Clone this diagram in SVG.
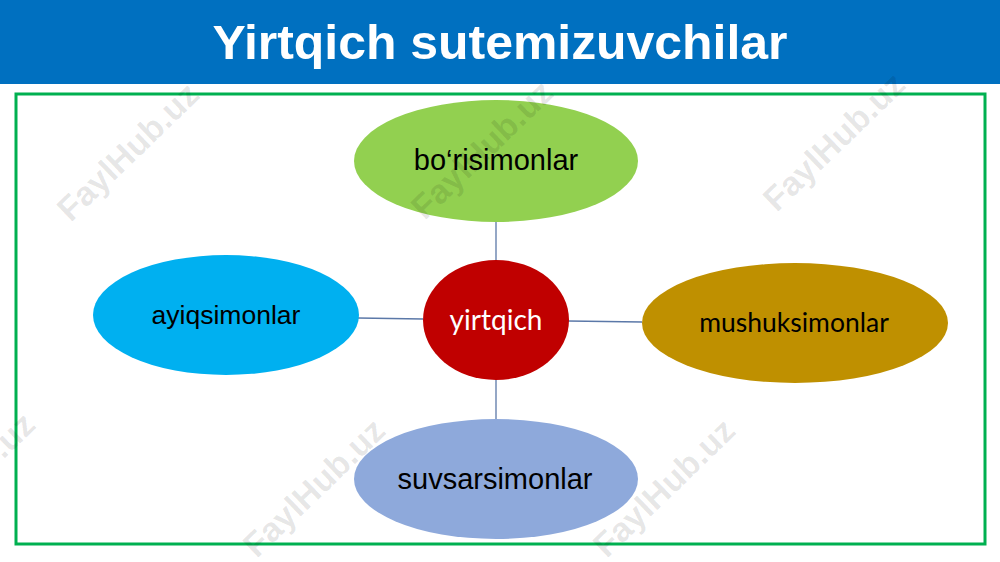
<svg xmlns="http://www.w3.org/2000/svg" width="1000" height="562" viewBox="0 0 1000 562">
<style>
.lbl{font-family:"Liberation Sans",Arial,sans-serif;fill:#000;text-anchor:middle}
.cal{font-family:Lato,"Open Sans",sans-serif;text-anchor:middle}
.conn{stroke:#5B78A8;stroke-width:1.3;fill:none}
.wm{font-family:"Liberation Sans",Arial,sans-serif;font-weight:bold;font-size:34px;fill:#000;fill-opacity:0.1;text-anchor:middle}
</style>
<rect x="0" y="0" width="1000" height="562" fill="#fff"/>
<g id="header">
<rect x="0" y="0" width="1000" height="84" fill="#0070C0"/>
<text x="500" y="59" font-family="Liberation Sans,Arial,sans-serif" font-weight="bold" font-size="48" fill="#fff" text-anchor="middle" textLength="575" lengthAdjust="spacingAndGlyphs">Yirtqich sutemizuvchilar</text>
</g>
<rect id="frame" x="16" y="94" width="969" height="450" fill="none" stroke="#00B050" stroke-width="3"/>
<g id="connectors">
<line class="conn" x1="496" y1="222" x2="496" y2="260"/>
<line class="conn" x1="358" y1="318" x2="423" y2="319"/>
<line class="conn" x1="568" y1="321" x2="642" y2="322"/>
<line class="conn" x1="496" y1="380" x2="496" y2="419"/>
</g>
<g id="top"><ellipse cx="496" cy="161" rx="142" ry="61" fill="#92D050"/><text class="lbl" x="496" y="170" font-size="29">bo‘risimonlar</text></g>
<g id="center"><ellipse cx="496" cy="320" rx="73" ry="60" fill="#C00000"/><text class="cal" x="496" y="330" font-size="28" fill="#fff">yirtqich</text></g>
<g id="left"><ellipse cx="226" cy="315" rx="133" ry="60" fill="#00B0F0"/><text class="lbl" x="226" y="324" font-size="26.5">ayiqsimonlar</text></g>
<g id="right"><ellipse cx="795" cy="323" rx="153" ry="60" fill="#BF9000"/><text class="cal" x="794" y="332" font-size="26.5" fill="#000">mushuksimonlar</text></g>
<g id="bottom"><ellipse cx="496" cy="479" rx="142" ry="60" fill="#8EA9DB"/><text class="lbl" x="495" y="489" font-size="29">suvsarsimonlar</text></g>
<g id="watermarks">
<text class="wm" transform="translate(136,160) rotate(-44)">FaylHub.uz</text>
<text class="wm" transform="translate(490,158) rotate(-44)">FaylHub.uz</text>
<text class="wm" transform="translate(842,150) rotate(-44)">FaylHub.uz</text>
<text class="wm" transform="translate(-28,490) rotate(-44)">FaylHub.uz</text>
<text class="wm" transform="translate(322,496) rotate(-44)">FaylHub.uz</text>
<text class="wm" transform="translate(672,496) rotate(-44)">FaylHub.uz</text>
</g>
</svg>
